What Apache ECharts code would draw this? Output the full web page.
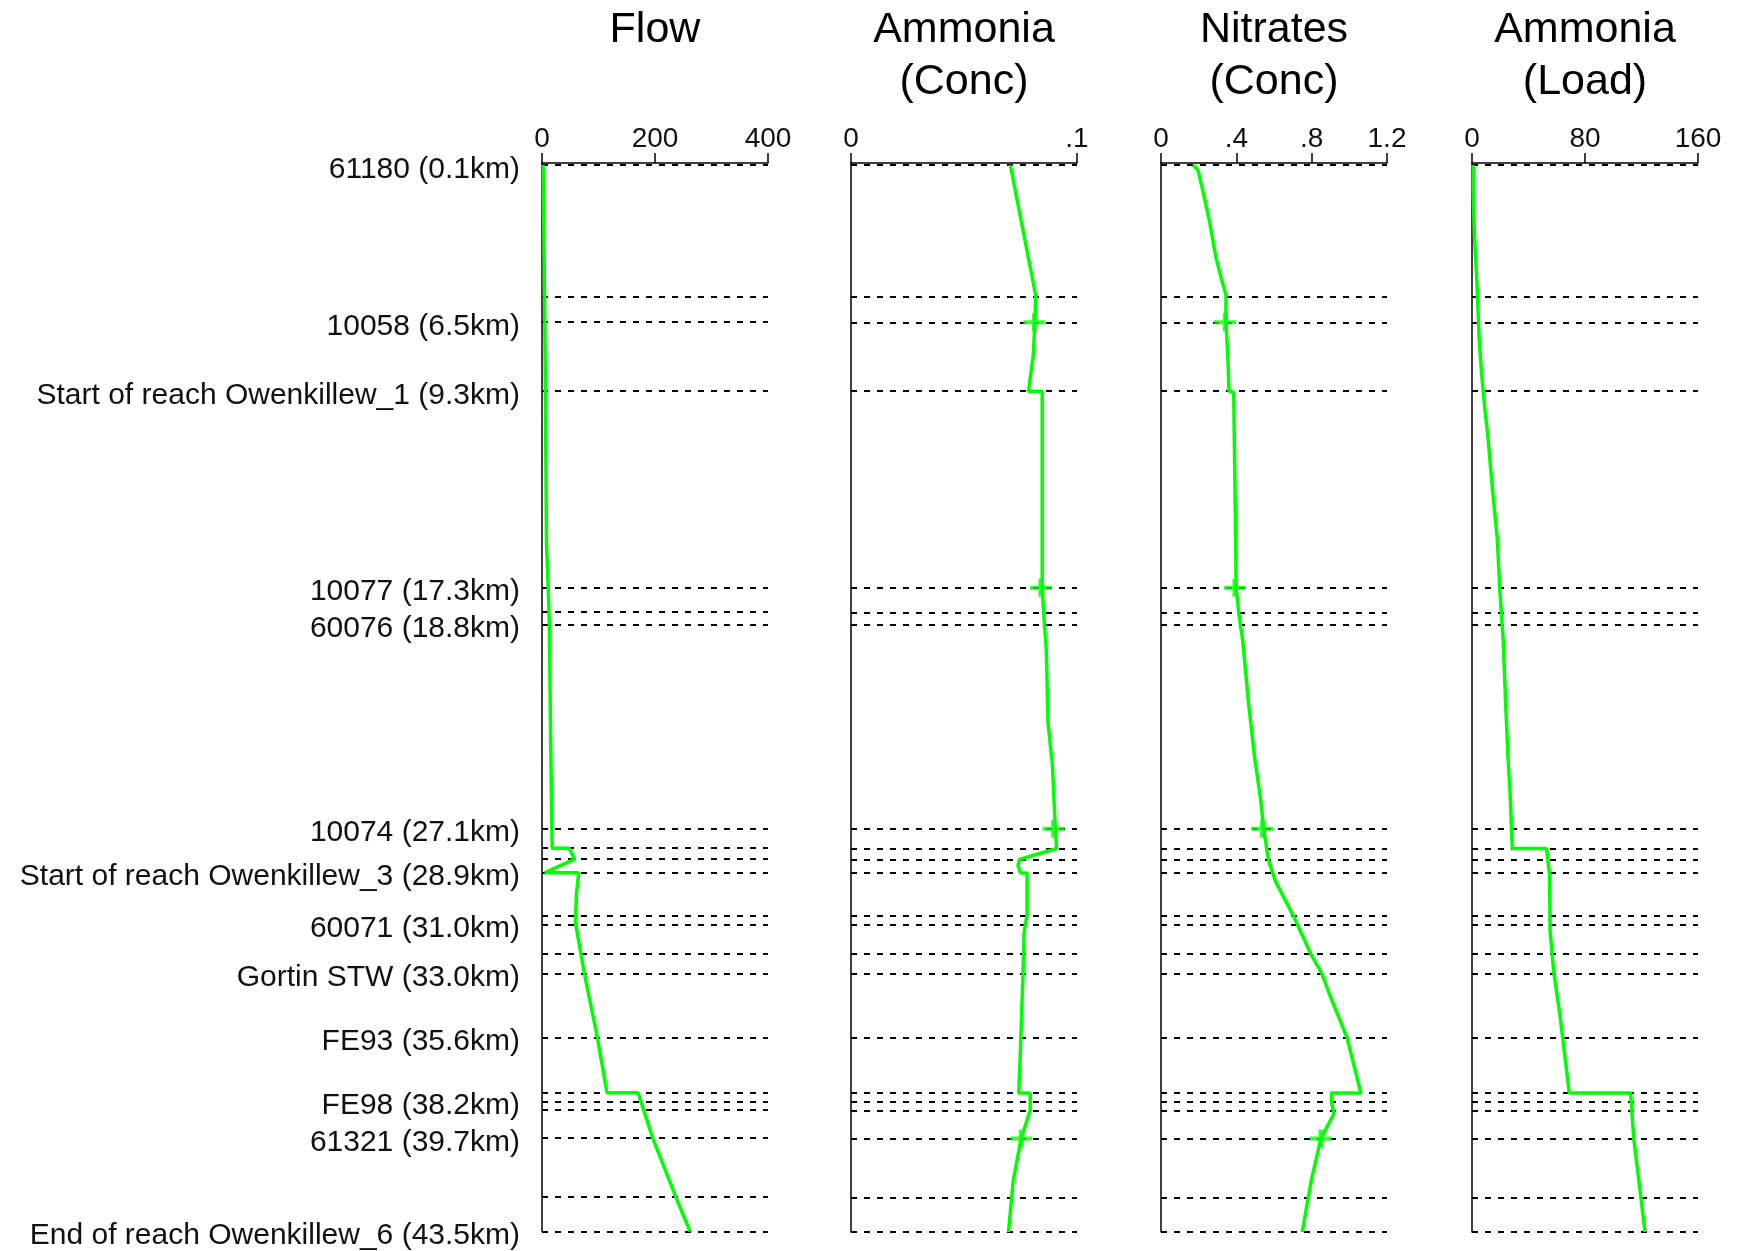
<!DOCTYPE html>
<html><head><meta charset="utf-8">
<script src="https://cdn.jsdelivr.net/npm/echarts@6/dist/echarts.min.js"></script>
<style>html,body{margin:0;padding:0;background:#fff}#c{width:1745px;height:1251px}</style>
</head><body><div id="c"></div>
<script>
// ---- Data ----
const siteKm = [0.1, 6.5, 9.3, 17.3, 18.8, 27.1, 28.9, 31.0, 33.0, 35.6, 38.2, 39.7, 43.5];
const siteNames = ['61180 (0.1km)', '10058 (6.5km)', 'Start of reach Owenkillew_1 (9.3km)', '10077 (17.3km)',
  '60076 (18.8km)', '10074 (27.1km)', 'Start of reach Owenkillew_3 (28.9km)', '60071 (31.0km)',
  'Gortin STW (33.0km)', 'FE93 (35.6km)', 'FE98 (38.2km)', '61321 (39.7km)', 'End of reach Owenkillew_6 (43.5km)'];
const featureKm = [0.1, 5.45, 6.5, 9.3, 17.3, 18.3, 18.8, 27.1, 27.9, 28.35, 28.9, 30.65, 31.0, 32.2, 33.0,
  35.6, 37.85, 38.2, 38.55, 39.7, 42.1, 43.5];

const panelTitles = ['Flow', 'Ammonia\n(Conc)', 'Nitrates\n(Conc)', 'Ammonia\n(Load)'];
const axisMax = [400, 0.1, 1.2, 160];
const axisStep = [200, 0.1, 0.4, 80];

const flowKm  = [0.1, 6.5, 9.3, 15.6, 17.3, 18.8, 23.0, 27.9, 27.9, 28.35, 28.9, 28.9, 29.75, 30.9, 33.0, 35.6, 37.85, 37.85, 39.7, 42.1, 43.5];
const flowVal = [2, 5, 6, 8, 11, 13, 15, 18, 48, 58, 5, 65, 61, 59, 75, 98, 115, 170, 196, 237, 262];

const ammKm  = [0.1, 5.4, 6.5, 7.9, 9.3, 9.3, 17.3, 18.8, 19.8, 22.8, 24.5, 27.1, 27.9, 28.35, 28.6, 28.9, 28.9, 30.6, 31.3, 33.0, 34.6, 36.8, 37.85, 37.85, 38.55, 39.7, 41.4, 43.5];
const ammVal = [0.0705, 0.0817, 0.0814, 0.0806, 0.0785, 0.0846, 0.0846, 0.0856, 0.0864, 0.0872, 0.0891, 0.0904, 0.0910, 0.0745, 0.0739, 0.0750, 0.0779, 0.0779, 0.0766, 0.0761, 0.0755, 0.0747, 0.0742, 0.0793, 0.0793, 0.0753, 0.0718, 0.0697];
const ammObsKm  = [6.5, 17.3, 27.1, 39.7];
const ammObsVal = [0.0811, 0.0840, 0.0896, 0.0753];

const nitKm  = [0.1, 0.3, 1.14, 2.49, 3.84, 4.79, 5.39, 6.5, 7.9, 9.3, 9.35, 13.3, 17.3, 18.27, 19.46, 22.0, 24.2, 25.9, 27.1, 28.35, 29.24, 30.64, 32.23, 33.0, 33.8, 35.6, 37.85, 37.85, 38.2, 38.69, 39.7, 41.4, 43.5];
const nitVal = [0.17, 0.196, 0.222, 0.26, 0.291, 0.323, 0.345, 0.345, 0.355, 0.361, 0.386, 0.393, 0.399, 0.412, 0.434, 0.465, 0.497, 0.529, 0.545, 0.570, 0.608, 0.703, 0.798, 0.855, 0.893, 0.988, 1.061, 0.905, 0.905, 0.918, 0.849, 0.798, 0.750];
const nitObsKm  = [6.5, 17.3, 27.1, 39.7];
const nitObsVal = [0.341, 0.392, 0.538, 0.849];

const loadKm  = [0.1, 1.14, 2.9, 4.8, 7.2, 8.6, 9.9, 11.3, 13.3, 15.3, 17.3, 19.46, 22.0, 24.2, 25.9, 27.9, 27.9, 28.96, 31.27, 32.95, 34.6, 37.85, 37.85, 39.7, 43.5];
const loadVal = [0.85, 0.85, 1.7, 3.4, 5.1, 6.8, 8.9, 11.5, 14.5, 17.9, 19.6, 22.1, 23.8, 25.5, 27.2, 28.5, 52.8, 54.9, 55.3, 57.9, 62.1, 68.9, 112.3, 114.5, 122.5];

// ---- Build ----
const lines = [[flowKm, flowVal], [ammKm, ammVal], [nitKm, nitVal], [loadKm, loadVal]];
const obs = [null, [ammObsKm, ammObsVal], [nitObsKm, nitObsVal], null];
const gridLeft = [542, 851, 1161, 1472];
const gridW = 226, gridTop = 163, gridH = 1069;
const GREEN = '#00ff00';
const plus = 'path://M0 3.9 H10 V6.1 H0 Z M3.9 0 H6.1 V10 H3.9 Z';

const zip = (k, v) => k.map((km, i) => [v[i], km]);
const fmtTick = v => v === 0 ? '0' : String(+v.toFixed(3)).replace(/^0\./, '.');
const nameOf = v => { const i = siteKm.findIndex(k => Math.abs(k - v) < 1e-6); return i >= 0 ? '{n|' + siteNames[i] + '}' : ''; };

const grid = [], xAxis = [], yAxis = [], series = [], graphic = [];
for (let p = 0; p < 4; p++) {
  grid.push({ left: gridLeft[p], top: gridTop, width: gridW, height: gridH, containLabel: false });
  xAxis.push({
    type: 'value', gridIndex: p, position: 'top', min: 0, max: axisMax[p], interval: axisStep[p],
    axisLine: { show: true, onZero: false, lineStyle: { color: '#000', width: 1.5 } },
    axisTick: { show: true, length: 10, lineStyle: { color: '#000', width: 1.5 } },
    axisLabel: { show: true, margin: 10, color: '#111', fontFamily: 'Liberation Sans', fontSize: 28, formatter: fmtTick },
    splitLine: { show: false }
  });
  yAxis.push({
    type: 'value', gridIndex: p, inverse: true, min: 0.02, max: 43.5,
    axisLine: { show: true, onZero: false, lineStyle: { color: '#000', width: 1.5 } },
    axisTick: { show: false },
    axisLabel: p === 0 ? {
      show: true, customValues: siteKm, margin: 22, color: '#111',
      fontFamily: 'Liberation Sans', fontSize: 30, formatter: nameOf,
      rich: { n: { fontFamily: 'Liberation Sans', fontSize: 30, color: '#111', padding: [9, 0, 0, 0] } }
    } : { show: false },
    splitLine: { show: false }
  });
  series.push({
    type: 'line', xAxisIndex: p, yAxisIndex: p, data: zip(lines[p][0], lines[p][1]),
    showSymbol: false, symbol: 'none', silent: true, animation: false, z: 5,
    lineStyle: { color: GREEN, width: 3.5 },
    markLine: {
      silent: true, symbol: ['none', 'none'], animation: false, z: 3,
      label: { show: false },
      lineStyle: { color: '#000', width: 2, type: [6, 7] },
      data: featureKm.map(k => ({ yAxis: k }))
    }
  });
  if (obs[p]) {
    series.push({
      type: 'scatter', xAxisIndex: p, yAxisIndex: p, data: zip(obs[p][0], obs[p][1]),
      symbol: plus, symbolSize: [22, 18], silent: true, animation: false, z: 6,
      itemStyle: { color: GREEN }
    });
  }
  graphic.push({
    type: 'text', x: gridLeft[p] + gridW / 2, y: 4, silent: true,
    style: { text: panelTitles[p], align: 'center', verticalAlign: 'top', fill: '#000',
      font: '43px "Liberation Sans"', lineHeight: 52 }
  });
}

const chart = echarts.init(document.getElementById('c'), null, { renderer: 'canvas' });
chart.setOption({ animation: false, backgroundColor: '#fff', grid, xAxis, yAxis, series, graphic });
</script>
</body></html>
